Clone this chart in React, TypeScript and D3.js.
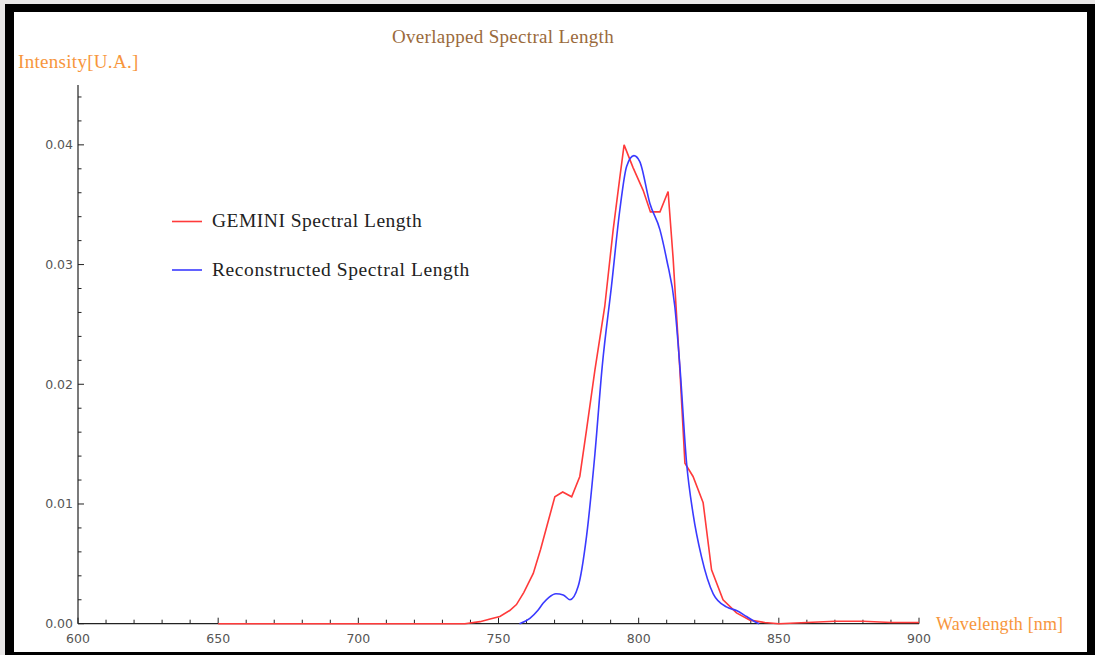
import React from "react";
import * as d3 from "d3";

const geminiWl = [650, 700, 738, 743.4, 747, 750.5, 754, 756.4, 759, 762.4, 765, 767.2, 770.1, 772.9, 776.1, 779.0, 781.4, 784.4, 787.9, 790.9, 793.3, 794.8, 798, 801.6, 804.2, 807.6, 810.5, 812.3, 814.7, 816.5, 819.4, 823.0, 826.0, 830.1, 834.9, 839.7, 845, 850, 860, 870, 880, 890, 900];
const geminiVal = [0, 0, 0, 0.00017, 0.0004, 0.0006, 0.0011, 0.0016, 0.0026, 0.0042, 0.0062, 0.0081, 0.0106, 0.0110, 0.0106, 0.0123, 0.0162, 0.0212, 0.0265, 0.0329, 0.0373, 0.0400, 0.0381, 0.0362, 0.0344, 0.0344, 0.0361, 0.0305, 0.0212, 0.0134, 0.0123, 0.0101, 0.0045, 0.0020, 0.0009, 0.0003, 0.0001, 0, 0.0001, 0.0002, 0.0002, 0.0001, 0.0001];

const reconWl = [757.5, 761.2, 764, 765.9, 768, 770.5, 773.1, 775.5, 778.4, 781.4, 784.4, 787.0, 790.3, 793.3, 795.7, 798.3, 800.4, 804.0, 807.6, 810.0, 812.9, 814.7, 817.1, 819.4, 822.4, 826.6, 831.3, 834.9, 838.5, 842.0, 843];
const reconVal = [0, 0.00045, 0.0011, 0.0017, 0.0022, 0.0025, 0.0024, 0.0020, 0.0031, 0.0073, 0.0142, 0.0215, 0.0282, 0.0346, 0.0382, 0.0391, 0.0386, 0.0351, 0.0329, 0.0304, 0.0265, 0.0215, 0.0134, 0.0092, 0.0056, 0.0025, 0.0014, 0.0011, 0.0006, 0.0001, 0];

const xMajor = [600, 650, 700, 750, 800, 850, 900];
const yMajor = [0, 0.01, 0.02, 0.03, 0.04];
const yLabels = ["0.00", "0.01", "0.02", "0.03", "0.04"];
const seriesNames = ["GEMINI Spectral Length", "Reconstructed Spectral Length"];

export default function App() {
  const W = 1095, H = 655;
  const x = d3.scaleLinear().domain([600, 900]).range([78, 919]);
  const y = d3.scaleLinear().domain([0, 0.045]).range([623.7, 85]);

  const xMinor = d3.range(600, 901, 10).filter((v) => v % 50 !== 0);
  const yMinor = d3.range(0, 0.0445, 0.002).filter((v) => Math.abs(v / 0.01 - Math.round(v / 0.01)) > 1e-6);

  const redPts: [number, number][] = geminiWl.map((w, i) => [w, geminiVal[i]]);
  const bluePts: [number, number][] = reconWl.map((w, i) => [w, reconVal[i]]);
  const lineRed = d3.line<[number, number]>().x((d) => x(d[0])).y((d) => y(d[1])).curve(d3.curveLinear);
  const lineBlue = d3.line<[number, number]>().x((d) => x(d[0])).y((d) => y(d[1])).curve(d3.curveMonotoneX);

  const serif = "'Liberation Serif', 'Times New Roman', serif";
  const sans = "'DejaVu Sans', Verdana, sans-serif";
  const x0 = x(600), yb = y(0);

  return (
    <svg width={W} height={H} style={{ position: "absolute", left: 0, top: 0 }}>
      <rect x={0} y={0} width={W} height={H} fill="#e9e7e7" />
      <rect x={5} y={4} width={W - 5} height={H - 4} fill="#000" />
      <rect x={14} y={12} width={1087 - 14} height={652 - 12} fill="#fff" />

      <text x={503} y={43} textAnchor="middle" fontFamily={serif} fontSize={19} letterSpacing={0.3} fill="#9a6a3c">Overlapped Spectral Length</text>
      <text x={18} y={68} fontFamily={serif} fontSize={19} letterSpacing={0.3} fill="#f7963c">Intensity[U.A.]</text>
      <text x={936} y={630} fontFamily={serif} fontSize={18} letterSpacing={0.15} fill="#f7963c">Wavelength [nm]</text>

      {/* axes */}
      <line x1={x0} x2={x0} y1={85} y2={yb} stroke="#222" strokeWidth={1.2} />
      <line x1={x0} x2={x(900)} y1={yb} y2={yb} stroke="#222" strokeWidth={1.2} />
      {xMajor.map((v) => (
        <g key={"xm" + v}>
          <line x1={x(v)} x2={x(v)} y1={yb} y2={yb - 6} stroke="#222" strokeWidth={1} />
          <text x={x(v)} y={643} textAnchor="middle" fontFamily={sans} fontSize={12.5} fill="#555">{v}</text>
        </g>
      ))}
      {xMinor.map((v) => (
        <line key={"xn" + v} x1={x(v)} x2={x(v)} y1={yb} y2={yb - 4} stroke="#222" strokeWidth={1} />
      ))}
      {yMajor.map((v, i) => (
        <g key={"ym" + v}>
          <line x1={x0} x2={x0 + 6} y1={y(v)} y2={y(v)} stroke="#222" strokeWidth={1} />
          <text x={73} y={y(v) + 4.5} textAnchor="end" fontFamily={sans} fontSize={12.5} fill="#555">{yLabels[i]}</text>
        </g>
      ))}
      {yMinor.map((v) => (
        <line key={"yn" + v} x1={x0} x2={x0 + 3.5} y1={y(v)} y2={y(v)} stroke="#222" strokeWidth={1} />
      ))}

      {/* series */}
      <path d={lineRed(redPts) || ""} fill="none" stroke="#ff3a3a" strokeWidth={1.6} />
      <path d={lineBlue(bluePts) || ""} fill="none" stroke="#3a3aff" strokeWidth={1.6} />

      {/* legend */}
      <line x1={172} x2={202} y1={221.5} y2={221.5} stroke="#ff3a3a" strokeWidth={1.6} />
      <text x={212} y={227} fontFamily={serif} fontSize={19.5} letterSpacing={0.5} fill="#222">{seriesNames[0]}</text>
      <line x1={172} x2={202} y1={270} y2={270} stroke="#3a3aff" strokeWidth={1.6} />
      <text x={212} y={276} fontFamily={serif} fontSize={19.5} letterSpacing={0.6} fill="#222">{seriesNames[1]}</text>
    </svg>
  );
}
